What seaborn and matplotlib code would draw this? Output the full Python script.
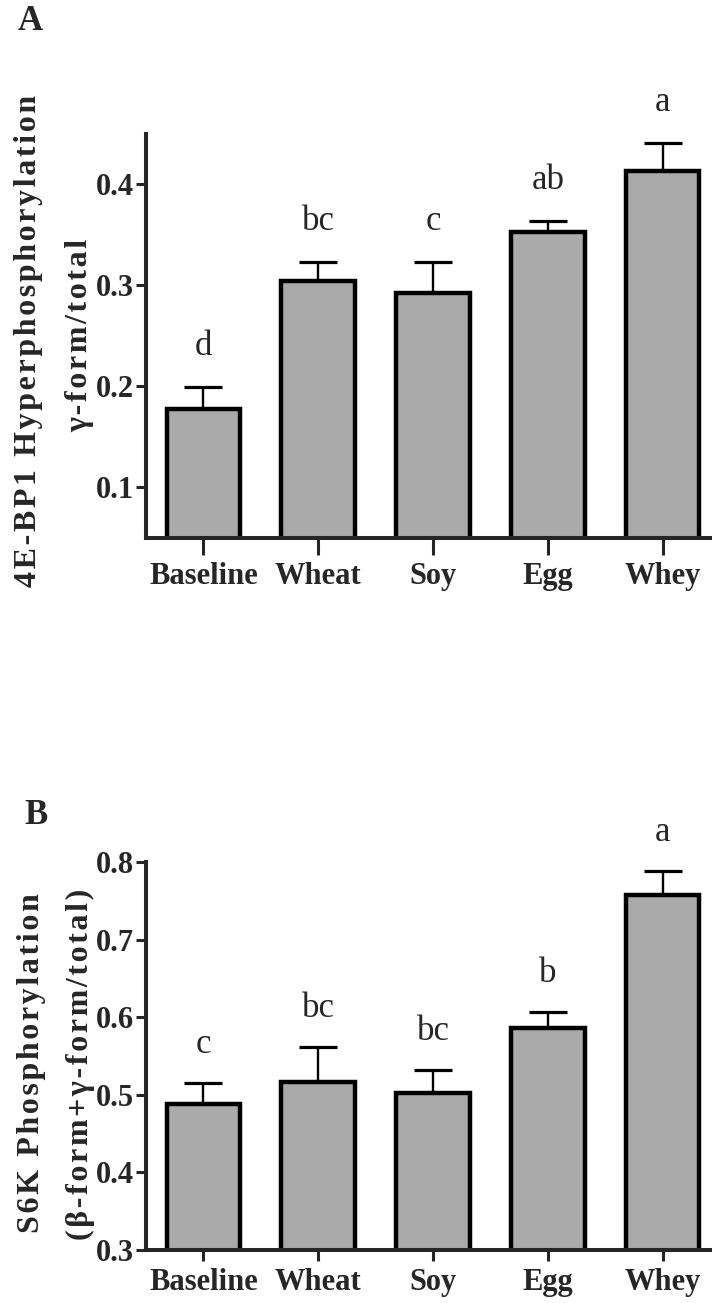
import numpy as np
import pandas as pd
import matplotlib
matplotlib.use("Agg")
import matplotlib.pyplot as plt
import seaborn as sns

# ---- data -------------------------------------------------------------
diets = ["Baseline", "Wheat", "Soy", "Egg", "Whey"]

ebp1_mean = [0.178, 0.304, 0.292, 0.353, 0.413]
ebp1_sem = [0.021, 0.019, 0.031, 0.011, 0.028]
ebp1_letters = ["d", "bc", "c", "ab", "a"]
ebp1_ticks = [0.1, 0.2, 0.3, 0.4]
ebp1_ticklabels = ["0.1", "0.2", "0.3", "0.4"]

s6k_mean = [0.488, 0.517, 0.502, 0.586, 0.757]
s6k_sem = [0.027, 0.045, 0.030, 0.021, 0.032]
s6k_letters = ["c", "bc", "bc", "b", "a"]
s6k_ticks = [0.3, 0.4, 0.5, 0.6, 0.7, 0.8]
s6k_ticklabels = ["0.3", "0.4", "0.5", "0.6", "0.7", "0.8"]

# ---- style ------------------------------------------------------------
sns.set_style("ticks")
plt.rcParams["font.family"] = ["Liberation Serif", "DejaVu Serif"]
plt.rcParams["axes.linewidth"] = 2.9

W, H = 712, 1303
fig = plt.figure(figsize=(W / 100, H / 100), dpi=100)

BAR_GREY = "#aaaaaa"


def spaced(text):
    """Open up the letter spacing of an axis title with hair spaces."""
    return "\u200a".join(text)


def panel(ax, means, sems, letters, ylim, ticks, ticklabels, letter_gap,
          xtick_len):
    df = pd.DataFrame({"diet": diets, "value": means})
    sns.barplot(data=df, x="diet", y="value", color=BAR_GREY, saturation=1,
                width=0.64, edgecolor="black", linewidth=3.2, errorbar=None,
                ax=ax, zorder=2)
    pos = np.arange(len(diets))
    ax.errorbar(pos, means, yerr=[np.zeros(len(means)), sems], fmt="none",
                ecolor="black", elinewidth=1.7, capsize=14, capthick=2.3,
                zorder=1)
    for x, m, s, lab in zip(pos, means, sems, letters):
        ax.annotate(lab, (x, m + s), xytext=(0, letter_gap),
                    textcoords="offset points", ha="center", va="baseline",
                    fontsize=25, annotation_clip=False)
    ax.set_xlim(-0.5, 4.43)
    ax.set_ylim(*ylim)
    ax.set_yticks(ticks)
    ax.set_yticklabels(ticklabels)
    ax.set_xlabel("")
    ax.set_ylabel("")
    ax.tick_params(axis="y", length=7, width=2.2, pad=1.5, labelsize=22)
    ax.tick_params(axis="x", length=xtick_len, width=2.2, pad=5, labelsize=22)
    plt.setp(ax.get_xticklabels(), fontweight="bold")
    plt.setp(ax.get_yticklabels(), fontweight="bold")
    sns.despine(ax=ax)
    ax.spines["left"].set_capstyle("projecting")
    ax.spines["bottom"].set_capstyle("projecting")


left = 146 / W
axA = fig.add_axes([left, 1 - 538 / H, 1 - left, (538 - 133.6) / H])
panel(axA, ebp1_mean, ebp1_sem, ebp1_letters, (0.05, 0.45),
      ebp1_ticks, ebp1_ticklabels, letter_gap=23, xtick_len=12)

axB = fig.add_axes([left, 1 - 1250 / H, 1 - left, (1250 - 862) / H])
panel(axB, s6k_mean, s6k_sem, s6k_letters, (0.3, 0.8),
      s6k_ticks, s6k_ticklabels, letter_gap=21.5, xtick_len=8)

# panel letters
fig.text(30 / W, 1 - 21 / H, "A", ha="center", va="center",
         fontsize=25, fontweight="bold")
fig.text(36 / W, 1 - 815 / H, "B", ha="center", va="center",
         fontsize=25, fontweight="bold")

# two-line y-axis titles
ylab_kw = dict(rotation=90, ha="center", va="center", fontsize=23,
               fontweight="bold")
fig.text(29 / W, 1 - 341 / H, spaced("4E-BP1 Hyperphosphorylation"), **ylab_kw)
fig.text(80 / W, 1 - 335 / H, spaced("γ-form/total"), **ylab_kw)
fig.text(32 / W, 1 - 1063 / H, spaced("S6K Phosphorylation"), **ylab_kw)
fig.text(80 / W, 1 - 1064 / H, spaced("(β-form+γ-form/total)"), **ylab_kw)

fig.savefig("out.png", dpi=100)
